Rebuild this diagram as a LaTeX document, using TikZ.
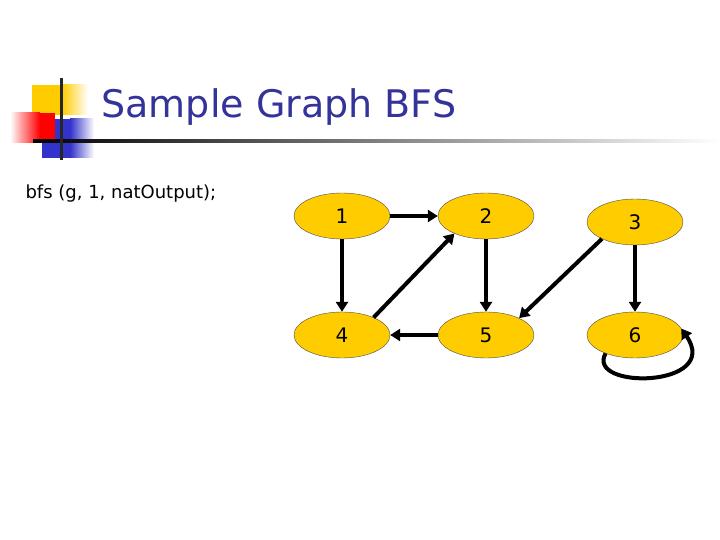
\documentclass[tikz,border=0pt]{standalone}
\usepackage{fontspec}
\setmainfont{DejaVu Sans}
\usepackage{tikz}
\usetikzlibrary{positioning, arrows.meta, shapes.geometric}

\definecolor{titleblue}{HTML}{333399}
\definecolor{gold}{HTML}{FFCC00}
\definecolor{deco blue}{HTML}{3333CC}

\begin{document}
\begin{tikzpicture}[
        x=1bp, y=-1bp,
        vertex/.style={ellipse, draw=black!70, fill=gold, minimum width=96bp, minimum height=46bp, inner sep=0pt, font=\fontsize{20bp}{24bp}\selectfont},
        edge/.style={line width=4bp, -{Triangle[length=10bp, width=12bp]}} % thick arrows
    ]
    \useasboundingbox (0,0) rectangle (720,540);

    % corner decoration
    \fill[gold] (32,85) rectangle (62,115);
    \shade[left color=gold, right color=white] (62,85) rectangle (88,115);
    \fill[deco blue] (42,119) rectangle (70,158);
    \shade[left color=deco blue, right color=white] (70,119) rectangle (94,158);
    \shade[left color=white, right color=red] (10,113) rectangle (40,143);
    \fill[red] (40,113) rectangle (55,143);
    \shade[left color=black, right color=white] (33,139.5) rectangle (720,142.5);
    \fill[black!85] (60,78) rectangle (63,160);

    \node[anchor=base west, text=titleblue, font=\fontsize{38bp}{44bp}\selectfont] (title) at (98,118) {Sample Graph BFS};
    \node[anchor=base west, font=\fontsize{18bp}{22bp}\selectfont] (call) at (22,199) {bfs (g, 1, natOutput);};

    % the graph
    \node[vertex] (n1) at (342,216) {1};
    \node[vertex] (n2) at (486,216) {2};
    \node[vertex] (n3) at (635,222) {3};
    \node[vertex] (n4) at (342,335) {4};
    \node[vertex] (n5) at (486,335) {5};
    \node[vertex] (n6) at (635,335) {6};

    \draw[edge] (n1) -- (n2);
    \draw[edge] (n1) -- (n4);
    \draw[edge] (n4.29) -- (n2.209);
    \draw[edge] (n2) -- (n5);
    \draw[edge] (n3.207) -- (n5.27);
    \draw[edge] (n3) -- (n6);
    \draw[edge] (n5) -- (n4);
    \draw[edge] (n6.212) .. controls (585,390) and (722,388) .. (n6.8);
\end{tikzpicture}
\end{document}
